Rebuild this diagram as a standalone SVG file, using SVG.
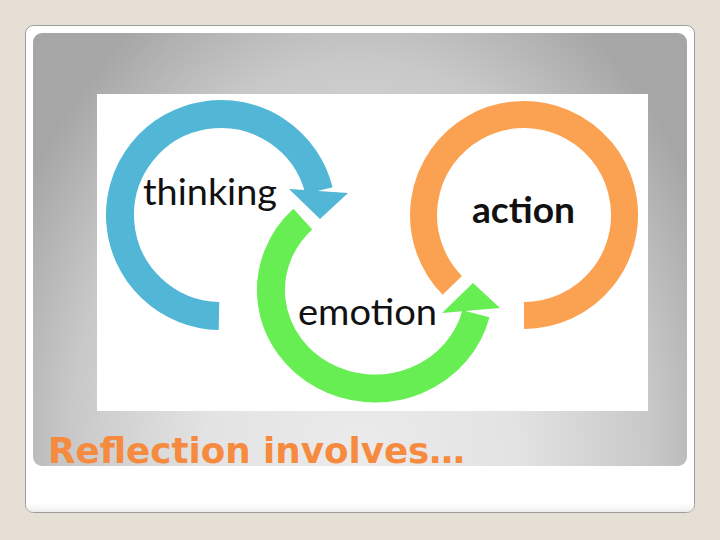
<svg xmlns="http://www.w3.org/2000/svg" width="720" height="540" viewBox="0 0 720 540">
  <defs>
    <radialGradient id="panelGrad" gradientUnits="userSpaceOnUse" cx="360" cy="466" r="100" gradientTransform="translate(360 466) scale(3.9 5.4) translate(-360 -466)">
      <stop offset="0" stop-color="#ebebeb"/>
      <stop offset="0.4" stop-color="#e3e3e3"/>
      <stop offset="0.75" stop-color="#c8c8c8"/>
      <stop offset="1" stop-color="#a6a6a6"/>
    </radialGradient>
    <linearGradient id="cardShade" x1="0" y1="0" x2="0" y2="1">
      <stop offset="0" stop-color="#ffffff" stop-opacity="0"/>
      <stop offset="1" stop-color="#d8d8d8" stop-opacity="1"/>
    </linearGradient>
    <style>
      .arc { fill: none; stroke-linecap: butt; }
      .blue { stroke: #52b6d6; }
      .green { stroke: #66ee52; }
      .orange { stroke: #fba252; }
      .label { font-family: Lato, "Open Sans", "Liberation Sans", sans-serif; fill: #111111; font-size: 36px; }
      .title { font-family: "DejaVu Sans", Verdana, sans-serif; font-weight: bold; fill: #f68b3f; font-size: 35px; }
    </style>
  </defs>

  <!-- background -->
  <rect x="0" y="0" width="720" height="540" fill="#e5dfd5"/>
  <!-- slide card -->
  <rect x="25.5" y="25.5" width="669" height="487" rx="8" ry="8" fill="#ffffff" stroke="#9c9c9c" stroke-width="1"/>
  <rect x="26" y="500" width="668" height="12" fill="url(#cardShade)" opacity="0.5"/>
  <!-- gray panel -->
  <rect x="33" y="33" width="654" height="433" rx="9" ry="9" fill="url(#panelGrad)"/>
  <!-- picture area -->
  <rect x="97" y="94" width="551" height="317" fill="#ffffff"/>

  <g id="connectors">
    <!-- thinking arc (blue) -->
    <path class="arc blue" stroke-width="28" d="M 219 316 A 101 101 0 1 1 319 190.6"/>
    <polygon fill="#52b6d6" points="289,189 348,193 320,219"/>
    <!-- emotion arc (green) -->
    <path class="arc green" stroke-width="28" d="M 302.8 219.1 A 104 98.5 0 1 0 475.9 313.8"/>
    <polygon fill="#66ee52" points="442,313 473,283 500,308"/>
    <!-- action arc (orange) -->
    <path class="arc orange" stroke-width="27" d="M 524 315.5 A 100.5 100.5 0 1 0 452.3 285.4"/>
  </g>

  <g id="thinking">
    <text class="label" x="143" y="205" textLength="134" lengthAdjust="spacingAndGlyphs">thinking</text>
  </g>
  <g id="emotion">
    <text class="label" x="298" y="325" textLength="139" lengthAdjust="spacingAndGlyphs">emotion</text>
  </g>
  <g id="action">
    <text class="label" x="472" y="223" font-weight="bold" font-size="34" textLength="103" lengthAdjust="spacingAndGlyphs">action</text>
  </g>

  <g id="title">
    <text class="title" x="48" y="463" textLength="417" lengthAdjust="spacingAndGlyphs">Reflection involves…</text>
  </g>
</svg>
